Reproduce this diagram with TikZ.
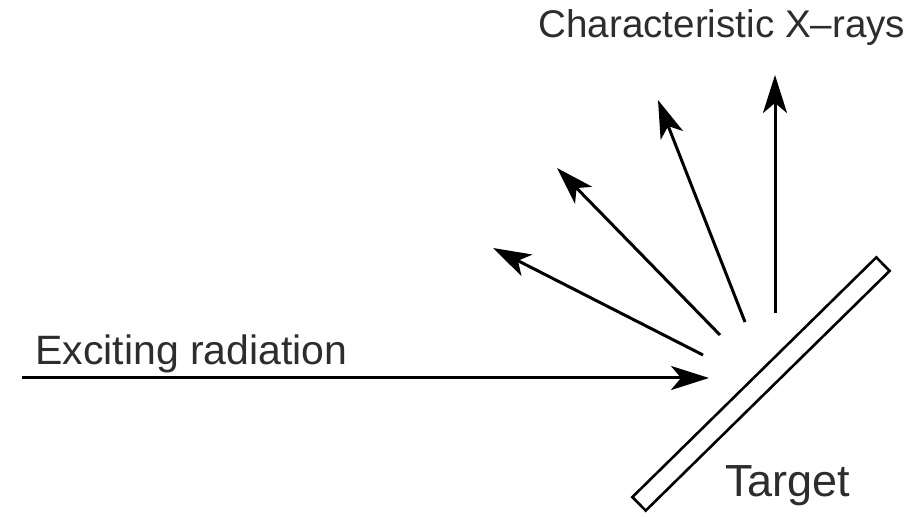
\documentclass[tikz,border=0pt]{standalone}
\usepackage{fontspec}
\setmainfont{Liberation Sans}
\usetikzlibrary{arrows.meta, positioning}
\definecolor{LabelColor}{RGB}{45,45,45}
\tikzset{
  ray/.style={line width=1.5pt, -{Stealth[length=19pt, width=12pt, inset=5pt]}},
  lbl/.style={text=LabelColor, inner sep=0pt, anchor=base west, font=\fontsize{20.5}{24}\selectfont}
}

\begin{document}
\begin{tikzpicture}[x=0.5pt, y=-0.5pt]
  \useasboundingbox (0,0) rectangle (922,517);
  % target plate
  \node[draw, line width=1.3pt, rotate=44.5, minimum width=171pt, minimum height=9.5pt, inner sep=0pt] (target) at (761,384) {};
  % incoming beam
  \coordinate (srcL) at (22,378);
  \coordinate (hitP) at (709,378);
  \draw[ray] (srcL) -- (hitP);
  % emitted x-rays
  \coordinate (tailA) at (703,355);  \coordinate (tipA) at (493,248);
  \coordinate (tailB) at (720,335);  \coordinate (tipB) at (557,168);
  \coordinate (tailC) at (745,322);  \coordinate (tipC) at (658,100);
  \coordinate (tailD) at (775,313);  \coordinate (tipD) at (775,75);
  \foreach \r in {A,B,C,D}
    \draw[ray] (tail\r) -- (tip\r);
  % labels
  \node[lbl, font=\fontsize{19.3}{23}\selectfont] (xrays) at (538,38) {Characteristic X–rays};
  \node[lbl] (beam) at (35,365) {Exciting radiation};
  \node[lbl, font=\fontsize{22.5}{26}\selectfont] (tlabel) at (725,497) {Target};
\end{tikzpicture}
\end{document}
